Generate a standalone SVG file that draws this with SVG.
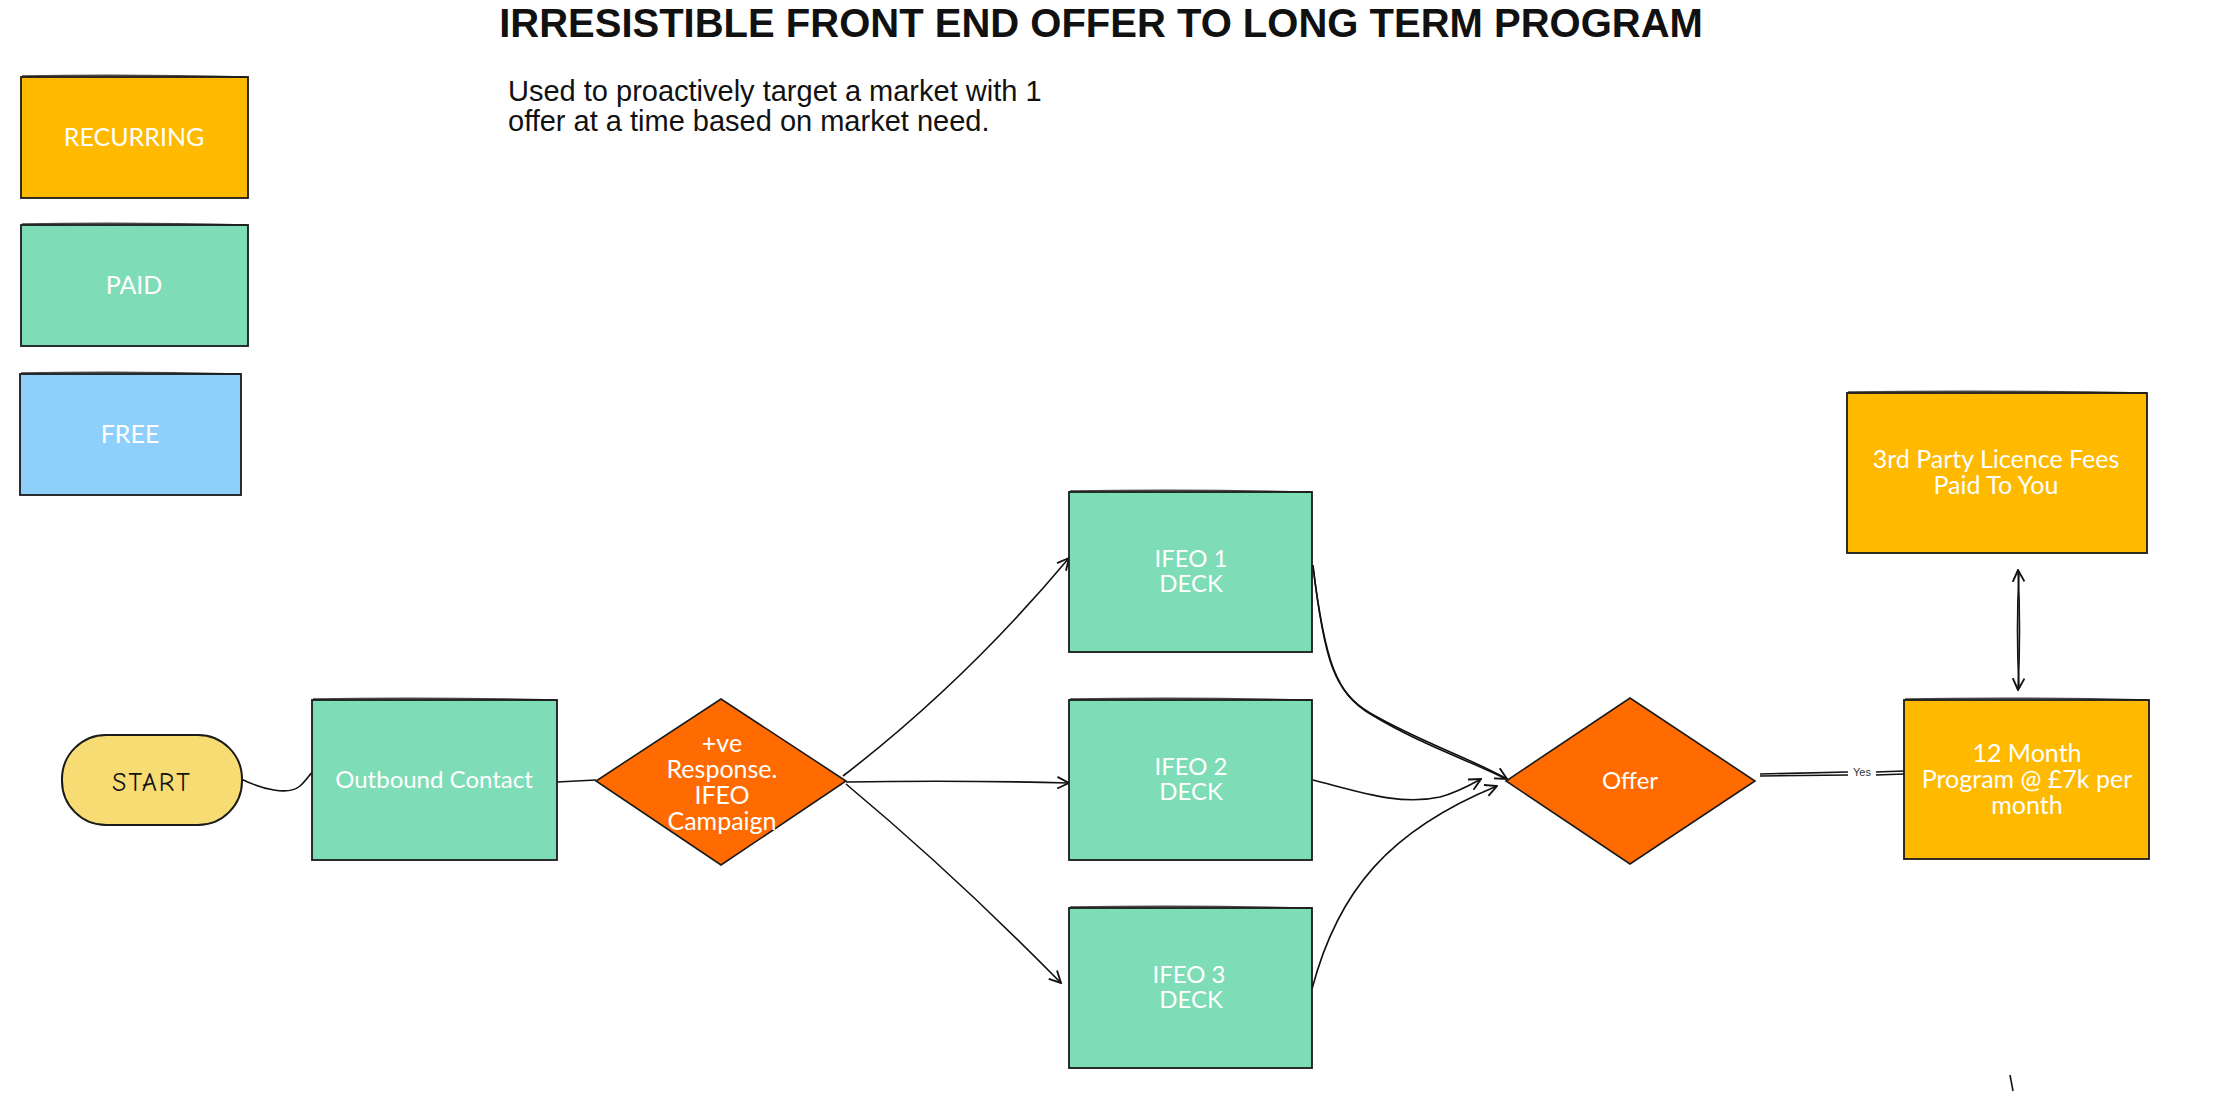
<svg xmlns="http://www.w3.org/2000/svg" width="2232" height="1093" viewBox="0 0 2232 1093">
<style>
.box{stroke:#1a1a1a;stroke-width:1.8}
.rec{fill:#FFBA00}
.paid{fill:#7EDCB6}
.free{fill:#8FCFFC}
.dia{fill:#FF6B00;stroke:#1a1a1a;stroke-width:1.6}
.start{fill:#F7DC74;stroke:#1a1a1a;stroke-width:2}
.sk{fill:none;stroke:#1a1a1a;stroke-width:1.4;opacity:0.8}
.t{font-family:Lato,"Open Sans","Noto Sans",sans-serif;font-size:24px;fill:#ffffff;text-anchor:middle}
.td{font-family:Lato,"Open Sans","Noto Sans",sans-serif;font-size:25px;fill:#ffffff;text-anchor:middle}
.conn{fill:none;stroke:#111;stroke-width:1.6}
</style>
<defs>
<marker id="arr" viewBox="0 0 12 12" refX="11" refY="6" markerWidth="14" markerHeight="14" markerUnits="userSpaceOnUse" orient="auto-start-reverse">
<path d="M1,1 L11,6 L1,11" fill="none" stroke="#111" stroke-width="1.6"/>
</marker>
</defs>
<rect width="2232" height="1093" fill="#ffffff"/>

<g id="title">
<text x="1101" y="37" font-family="'Liberation Sans',Arial,sans-serif" font-size="40" font-weight="bold" fill="#111" text-anchor="middle">IRRESISTIBLE FRONT END OFFER TO LONG TERM PROGRAM</text>
</g>
<g id="subtitle">
<text font-family="'Liberation Sans',Arial,sans-serif" font-size="29" fill="#111"><tspan x="508" y="101">Used to proactively target a market with 1</tspan><tspan x="508" y="131">offer at a time based on market need.</tspan></text>
</g>

<g id="legend-recurring">
<rect class="box rec" x="21" y="77" width="227" height="121"/>
<path class="sk" d="M22,76 Q130,74 247,77"/>
<text class="td" x="134" y="146">RECURRING</text>
</g>
<g id="legend-paid">
<rect class="box paid" x="21" y="225" width="227" height="121"/>
<path class="sk" d="M22,224 Q130,222 247,225"/>
<text class="td" x="134" y="294">PAID</text>
</g>
<g id="legend-free">
<rect class="box free" x="20" y="374" width="221" height="121"/>
<path class="sk" d="M21,373 Q130,371 240,374"/>
<text class="td" x="130" y="443">FREE</text>
</g>

<g id="connectors">
<path class="conn" d="M241,779 C262,789 288,796 300,786 C307,780 310,773 316,769"/>
<path class="conn" d="M557,782 L596,780"/>
<path class="conn" marker-end="url(#arr)" d="M843,776 Q965,682 1069,558"/>
<path class="conn" marker-end="url(#arr)" d="M846,782 Q960,780 1069,783"/>
<path class="conn" marker-end="url(#arr)" d="M846,784 Q955,875 1061,983"/>
<path class="conn" marker-end="url(#arr)" d="M1313,565 C1324,660 1334,692 1370,713 C1420,742 1470,758 1507,779"/>
<path class="conn" d="M1313,567 C1325,662 1336,694 1372,715 C1420,744 1468,760 1504,778" stroke-width="1"/>
<path class="conn" marker-end="url(#arr)" stroke-width="2" d="M1313,780 C1360,792 1400,806 1440,797 C1458,792 1470,785 1481,779"/>
<path class="conn" marker-end="url(#arr)" d="M1312,989 C1338,890 1390,830 1497,786"/>
<path class="conn" d="M1760,774 L1848,772 M1876,772 L1904,771"/>
<path class="conn" d="M1760,776 L1848,775 M1876,775 L1904,774" stroke-width="1"/>
<text x="1862" y="776" font-family="'Liberation Sans',Arial,sans-serif" font-size="11" fill="#333" text-anchor="middle">Yes</text>
<path class="conn" marker-start="url(#arr)" marker-end="url(#arr)" d="M2018,570 Q2021,630 2018,690"/>
<path class="conn" d="M2019,572 Q2016,630 2019,688" stroke-width="1"/>
<path class="conn" d="M2010,1075 L2013,1091"/>
</g>

<g id="start">
<rect class="start" x="62" y="735" width="180" height="90" rx="44" ry="44"/>
<text x="152" y="791" font-family="'Comic Neue','Noto Sans',Lato,sans-serif" font-size="26" fill="#111" text-anchor="middle" letter-spacing="2">START</text>
</g>

<g id="outbound">
<rect class="box paid" x="312" y="700" width="245" height="160"/>
<path class="sk" d="M313,699 Q430,697 556,700"/>
<text class="t" x="434" y="788" font-size="25">Outbound Contact</text>
</g>

<g id="response">
<polygon class="dia" points="721,699 846,781 721,865 596,781"/>
<text class="td" font-size="21"><tspan x="722" y="752">+ve</tspan><tspan x="722" y="778">Response.</tspan><tspan x="722" y="804">IFEO</tspan><tspan x="722" y="830">Campaign</tspan></text>
</g>

<g id="ifeo1">
<rect class="box paid" x="1069" y="492" width="243" height="160"/>
<path class="sk" d="M1070,491 Q1190,489 1311,492"/>
<text class="t"><tspan x="1191" y="567">IFEO 1</tspan><tspan x="1191" y="592">DECK</tspan></text>
</g>

<g id="ifeo2">
<rect class="box paid" x="1069" y="700" width="243" height="160"/>
<path class="sk" d="M1070,699 Q1190,697 1311,700"/>
<text class="t"><tspan x="1191" y="775">IFEO 2</tspan><tspan x="1191" y="800">DECK</tspan></text>
</g>

<g id="ifeo3">
<rect class="box paid" x="1069" y="908" width="243" height="160"/>
<path class="sk" d="M1070,907 Q1190,905 1311,908"/>
<text class="t"><tspan x="1189" y="983">IFEO 3</tspan><tspan x="1191" y="1008">DECK</tspan></text>
</g>

<g id="offer">
<polygon class="dia" points="1630,698 1755,781 1630,864 1506,781"/>
<text class="t" x="1630" y="789" font-size="25">Offer</text>
</g>

<g id="program">
<rect class="box rec" x="1904" y="700" width="245" height="159"/>
<path class="sk" d="M1905,699 Q2025,697 2148,700"/>
<text class="td" font-size="21.5"><tspan x="2027" y="762">12 Month</tspan><tspan x="2027" y="788">Program @ £7k per</tspan><tspan x="2027" y="814">month</tspan></text>
</g>

<g id="licence">
<rect class="box rec" x="1847" y="393" width="300" height="160"/>
<path class="sk" d="M1848,392 Q1995,390 2146,393"/>
<text class="td" font-size="21.5"><tspan x="1996" y="468">3rd Party Licence Fees</tspan><tspan x="1996" y="494">Paid To You</tspan></text>
</g>
</svg>
